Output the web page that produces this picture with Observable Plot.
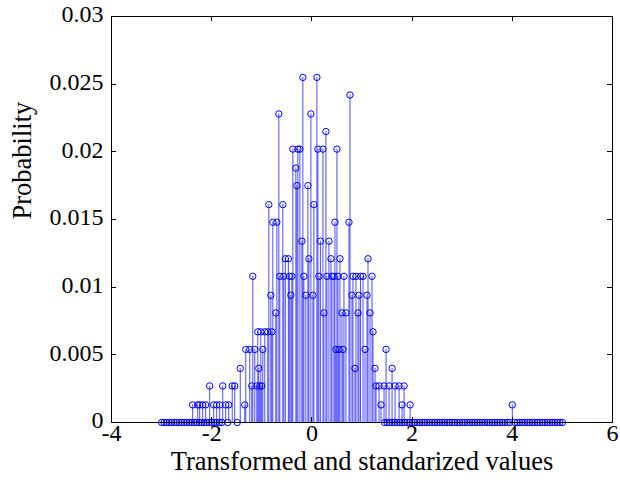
<!DOCTYPE html>
<html>
<head>
<meta charset="utf-8">
<script src="https://cdn.jsdelivr.net/npm/d3@7"></script>
<script src="https://cdn.jsdelivr.net/npm/@observablehq/plot@0.6"></script>
<style>
  html, body { margin: 0; padding: 0; background: white; }
</style>
</head>
<body>
<div id="chart"></div>
<script>
// Non-zero stems: standardized value and probability
const stemX = [
  -2.38, -2.28, -2.24, -2.18, -2.12, -2.04, -1.96, -1.90, -1.84, -1.78, -1.72, -1.66, -1.59, -1.54,
  -1.43, -1.34, -1.32, -1.24, -1.20, -1.18, -1.14, -1.10, -1.08, -1.06, -1.04, -1.02, -1.00, -0.98,
  -0.94, -0.88, -0.86, -0.82, -0.80, -0.78, -0.72, -0.70, -0.66, -0.64, -0.58, -0.56, -0.53, -0.47,
  -0.45, -0.42, -0.40, -0.38, -0.32, -0.30, -0.28, -0.24, -0.20, -0.18, -0.16, -0.12, -0.08, -0.06,
  -0.02, 0.02, 0.04, 0.10, 0.12, 0.14, 0.17, 0.22, 0.24, 0.28, 0.30, 0.34, 0.38, 0.40, 0.44, 0.46,
  0.48, 0.50, 0.52, 0.54, 0.56, 0.60, 0.62, 0.64, 0.68, 0.74, 0.76, 0.80, 0.82, 0.86, 0.88, 0.92,
  0.94, 0.97, 1.02, 1.06, 1.10, 1.12, 1.16, 1.20, 1.22, 1.26, 1.28, 1.34, 1.38, 1.44, 1.48, 1.54,
  1.60, 1.66, 1.74, 1.80, 1.84, 1.96, 4.00
];
const stemP = [
  0.0013, 0.0013, 0.0013, 0.0013, 0.0013, 0.0027, 0.0013, 0.0013, 0.0013, 0.0027, 0.0013, 0.0013, 0.0027, 0.0027,
  0.0040, 0.0013, 0.0054, 0.0054, 0.0027, 0.0108, 0.0054, 0.0027, 0.0067, 0.0040, 0.0027, 0.0067, 0.0027, 0.0054,
  0.0067, 0.0067, 0.0161, 0.0094, 0.0067, 0.0148, 0.0081, 0.0148, 0.0228, 0.0108, 0.0161, 0.0108, 0.0121, 0.0121,
  0.0108, 0.0094, 0.0108, 0.0202, 0.0188, 0.0175, 0.0202, 0.0202, 0.0134, 0.0255, 0.0108, 0.0094, 0.0175, 0.0121,
  0.0228, 0.0094, 0.0161, 0.0255, 0.0202, 0.0108, 0.0134, 0.0202, 0.0081, 0.0215, 0.0108, 0.0134, 0.0121, 0.0108, 0.0108, 0.0148,
  0.0054, 0.0202, 0.0108, 0.0054, 0.0121, 0.0081, 0.0054, 0.0108, 0.0081, 0.0148, 0.0242, 0.0094, 0.0108, 0.0040, 0.0108, 0.0081,
  0.0094, 0.0108, 0.0108, 0.0054, 0.0094, 0.0121, 0.0081, 0.0108, 0.0067, 0.0040, 0.0027, 0.0027, 0.0013, 0.0027, 0.0054, 0.0027,
  0.0040, 0.0027, 0.0027, 0.0013, 0.0027, 0.0013, 0.0013
];
// Values with zero probability (drawn as markers on the baseline)
const zeroX = [
  -3.00, -2.95, -2.90, -2.85, -2.80, -2.75, -2.70, -2.65, -2.60, -2.55, -2.50, -2.45, -2.40, -2.35,
  -2.30, -2.25, -2.20, -2.15, -2.10, -2.05, -2.00, -1.95, -1.90, -1.85, -1.80, -1.68, -1.49,
  1.45, 1.50, 1.55, 1.60, 1.65, 1.70, 1.75, 1.80, 1.85, 1.90, 1.95, 2.00, 2.05, 2.10, 2.15, 2.20,
  2.25, 2.30, 2.35, 2.40, 2.45, 2.50, 2.55, 2.60, 2.65, 2.70, 2.75, 2.80, 2.85, 2.90, 2.95, 3.00,
  3.05, 3.10, 3.15, 3.20, 3.25, 3.30, 3.35, 3.40, 3.45, 3.50, 3.55, 3.60, 3.65, 3.70, 3.75, 3.80,
  3.85, 3.90, 3.95, 4.05, 4.10, 4.15, 4.20, 4.25, 4.30, 4.35, 4.40, 4.45, 4.50, 4.55, 4.60, 4.65,
  4.70, 4.75, 4.80, 4.85, 4.90, 4.95, 5.00
];
const xTicks = [-4, -2, 0, 2, 4, 6];
const yTicks = [0, 0.005, 0.01, 0.015, 0.02, 0.025, 0.03];
const xTickLabels = ["-4", "-2", "0", "2", "4", "6"];
const yTickLabels = ["0", "0.005", "0.01", "0.015", "0.02", "0.025", "0.03"];
const xLabel = "Transformed and standarized values";
const yLabel = "Probability";

const FONT = "Liberation Serif";
const stems = stemX.map((x, i) => ({x, p: stemP[i]}));
const zeros = zeroX.map(x => ({x, p: 0}));
const all = zeros.concat(stems);
const xTickRows = xTicks.map((v, i) => ({v, label: xTickLabels[i]}));
const yTickRows = yTicks.map((v, i) => ({v, label: yTickLabels[i]}));

const tickMarks = (index, scales, values, dims) => {
  const {x, y} = scales;
  const {width, height, marginLeft, marginRight, marginTop, marginBottom} = dims;
  const L = 5;
  const g = d3.create("svg:g").attr("stroke", "black").attr("stroke-width", 1);
  const bottom = height - marginBottom, top = marginTop;
  const left = marginLeft, right = width - marginRight;
  for (const t of xTicks) {
    const px = Math.round(x(t)) + 0.5;
    g.append("line").attr("x1", px).attr("x2", px).attr("y1", bottom).attr("y2", bottom - L);
    g.append("line").attr("x1", px).attr("x2", px).attr("y1", top).attr("y2", top + L);
  }
  for (const t of yTicks) {
    const py = Math.round(y(t)) + 0.5;
    g.append("line").attr("x1", left).attr("x2", left + L).attr("y1", py).attr("y2", py);
    g.append("line").attr("x1", right).attr("x2", right - L).attr("y1", py).attr("y2", py);
  }
  return g.node();
};

const chart = Plot.plot({
  width: 620,
  height: 486,
  marginLeft: 111,
  marginRight: 8,
  marginTop: 16,
  marginBottom: 64,
  style: {fontFamily: FONT, fontSize: "24px", background: "white", color: "black"},
  x: {domain: [-4, 6], axis: null},
  y: {domain: [0, 0.03], axis: null},
  marks: [
    Plot.ruleX(stems, {x: "x", y1: 0, y2: "p", stroke: "#0000ff", strokeWidth: 0.7}),
    Plot.dot(all, {x: "x", y: "p", r: 3.2, stroke: "#0000ff", strokeWidth: 1, fill: "none"}),
    Plot.frame({stroke: "black", strokeWidth: 1}),
    tickMarks,
    Plot.text(xTickRows, {x: "v", frameAnchor: "bottom", dy: 18, text: "label", fontSize: 24, fontFamily: FONT, fill: "black"}),
    Plot.text(yTickRows, {y: "v", frameAnchor: "left", dx: -8, dy: -2, textAnchor: "end", text: "label", fontSize: 24, fontFamily: FONT, fill: "black"}),
    Plot.text([xLabel], {frameAnchor: "bottom", dy: 47, text: d => d, fontSize: 26.5, fontFamily: FONT, fill: "black"}),
    Plot.text([yLabel], {frameAnchor: "left", dx: -89, rotate: -90, text: d => d, fontSize: 26.5, fontFamily: FONT, fill: "black"})
  ]
});
document.getElementById("chart").appendChild(chart);
</script>
</body>
</html>
